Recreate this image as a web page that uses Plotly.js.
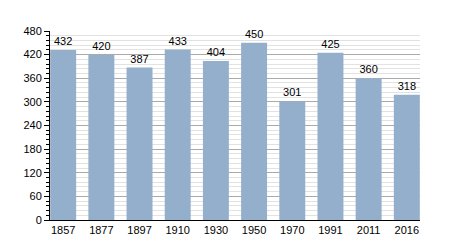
<!DOCTYPE html>
<html>
<head>
<meta charset="utf-8">
<script src="https://cdn.plot.ly/plotly-3.0.1.min.js"></script>
<style>html,body{margin:0;padding:0;background:#fff;}#chart{width:450px;height:250px;}</style>
</head>
<body>
<div id="chart"></div>
<script>
const years = ["1857","1877","1897","1910","1930","1950","1970","1991","2011","2016"];
const population = [432,420,387,433,404,450,301,425,360,318];
const yTicks = [0,60,120,180,240,300,360,420,480];

const trace = {
  type: 'bar',
  x: years,
  y: population,
  text: population.map(String),
  textposition: 'outside',
  cliponaxis: false,
  textfont: {family: 'Liberation Sans, Arial, sans-serif', size: 11, color: '#000'},
  marker: {color: 'rgb(148,175,204)', line: {width: 0}},
  width: 0.68,
  hoverinfo: 'skip'
};

const layout = {
  width: 450, height: 250,
  margin: {l: 50, r: 30, t: 31, b: 30},
  paper_bgcolor: '#fff', plot_bgcolor: '#fff',
  showlegend: false,
  font: {family: 'Liberation Sans, Arial, sans-serif', size: 11, color: '#000'},
  xaxis: {
    type: 'category',
    range: [-0.345, 9.345],
    showline: true, linecolor: '#000', linewidth: 1,
    ticks: '', showgrid: false,
    tickfont: {size: 11}
  },
  yaxis: {
    range: [0, 480],
    tickvals: yTicks,
    ticks: 'outside', ticklen: 5, tickcolor: '#000',
    showline: true, linecolor: '#000', linewidth: 1,
    showgrid: true, gridcolor: '#aaaaaa', gridwidth: 1,
    zeroline: false,
    tickfont: {size: 11},
    minor: {dtick: 12, tick0: 0, ticks: 'outside', ticklen: 3, tickcolor: '#000', showgrid: true, gridcolor: '#e2e2e2', gridwidth: 1}
  }
};

Plotly.newPlot('chart', [trace], layout, {staticPlot: true, displayModeBar: false});
</script>
</body>
</html>
